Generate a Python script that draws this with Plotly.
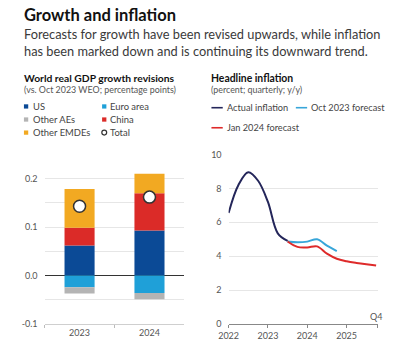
import plotly.graph_objects as go

# ---------------- data ----------------
years = ["2023", "2024"]
us = [0.062, 0.093]
china = [0.037, 0.077]
other_emdes = [0.080, 0.040]
euro_area = [-0.024, -0.036]
other_aes = [-0.013, -0.013]
total = [0.143, 0.162]

actual_q = ["2022Q1", "2022Q2", "2022Q3", "2022Q4", "2023Q1", "2023Q2", "2023Q3"]
actual = [6.55, 8.2, 8.95, 8.45, 7.2, 5.35, 4.9]
oct_q = ["2023Q3", "2023Q4", "2024Q1", "2024Q2", "2024Q3", "2024Q4"]
oct_fc = [4.87, 4.82, 4.86, 5.0, 4.62, 4.3]
jan_q = ["2023Q3", "2023Q4", "2024Q1", "2024Q2", "2024Q3", "2024Q4",
         "2025Q1", "2025Q2", "2025Q3", "2025Q4"]
jan_fc = [4.87, 4.55, 4.52, 4.58, 4.15, 3.85, 3.7, 3.6, 3.52, 3.45]

year_ticks = [2022, 2023, 2024, 2025]

# ---------------- styles ----------------
C_US = "#0B4A96"
C_EURO = "#1FA0D8"
C_AES = "#B4B4B4"
C_CHINA = "#DB2B28"
C_EMDE = "#F2A922"
C_ACT = "#24265A"
C_OCT = "#38A6D9"
C_JAN = "#DE2A2A"
FONT = "Lato"

W, H = 393, 351


def qx(q):
    return int(q[:4]) + (int(q[-1]) - 1) / 4


def X(px):
    return px / W


def Y(py):
    return 1 - py / H


fig = go.Figure()

# stacked bars (positives then negatives, relative mode)
for name, vals, col in [("US", us, C_US), ("China", china, C_CHINA),
                        ("Other EMDEs", other_emdes, C_EMDE),
                        ("Euro area", euro_area, C_EURO),
                        ("Other AEs", other_aes, C_AES)]:
    fig.add_trace(go.Bar(x=years, y=vals, name=name, marker_color=col,
                         marker_line_width=0, xaxis="x", yaxis="y",
                         showlegend=False))
fig.add_trace(go.Scatter(x=years, y=total, mode="markers", name="Total",
                         marker=dict(symbol="circle", size=12, color="white",
                                     line=dict(color="#333333", width=1.5)),
                         xaxis="x", yaxis="y", showlegend=False))

# inflation lines
for name, qs, vals, col in [("Oct 2023 forecast", oct_q, oct_fc, C_OCT),
                            ("Jan 2024 forecast", jan_q, jan_fc, C_JAN),
                            ("Actual inflation", actual_q, actual, C_ACT)]:
    fig.add_trace(go.Scatter(x=[qx(q) for q in qs], y=vals, mode="lines",
                             name=name, line=dict(color=col, width=2,
                                                  shape="spline", smoothing=1.0),
                             xaxis="x2", yaxis="y2", showlegend=False))

grid = "#E6E6E6"
tickfont = dict(family=FONT, size=9, color="#555555")

fig.update_layout(
    width=W, height=H,
    margin=dict(l=0, r=0, t=0, b=0),
    paper_bgcolor="white", plot_bgcolor="white",
    barmode="relative", bargap=0.57,
    showlegend=False,
    xaxis=dict(domain=[X(35.5), X(179)], range=[-0.5, 1.5], type="category",
               showgrid=False, showline=True, linecolor="#CFCFCF", linewidth=1,
               ticks="outside", tickson="boundaries", ticklen=3,
               tickcolor="#BBBBBB", tickfont=tickfont, anchor="y",
               fixedrange=True),
    yaxis=dict(domain=[Y(328.3), Y(153.3)], range=[-0.1, 0.25],
               tickvals=[-0.1, -0.05, 0, 0.05, 0.1, 0.15, 0.2, 0.25],
               ticktext=["-0.1", "", "0.0", "", "0.1", "", "0.2", ""],
               showgrid=True, gridcolor=grid, gridwidth=1,
               zeroline=True, zerolinecolor="#333333", zerolinewidth=1,
               showline=False, ticks="", tickfont=tickfont,
               ticklabelstandoff=6, anchor="x", fixedrange=True),
    xaxis2=dict(domain=[X(224.3), X(377.3)], range=[2022, 2025.79],
                tickvals=year_ticks + [2025.79],
                ticktext=[str(y) for y in year_ticks] + [""],
                showgrid=False, showline=True, linecolor="#888888",
                linewidth=1, ticks="outside", ticklen=3, tickcolor="#888888",
                tickfont=tickfont, anchor="y2", fixedrange=True),
    yaxis2=dict(domain=[Y(328.3), Y(153.3)], range=[0, 10], dtick=2,
                showgrid=True, gridcolor=grid, gridwidth=1, zeroline=False,
                showline=False, ticks="", tickfont=tickfont,
                ticklabelstandoff=6, anchor="x2", fixedrange=True),
)

ann = []


def text(x, y, s, size, color="#333333", bold=False, xanchor="left"):
    ann.append(dict(x=X(x), y=Y(y), xref="paper", yref="paper",
                    text=f"<b>{s}</b>" if bold else s, showarrow=False,
                    xanchor=xanchor, yanchor="middle", align="left",
                    font=dict(family=FONT, size=size, color=color)))


text(12.5, 9.6, "Growth and inflation", 16.5, "#111111", bold=True)
text(12, 37.6, "Forecasts for growth have been revised upwards, while inflation"
     "<br>has been marked down and is continuing its downward trend.", 12.8, "#3A3A3A")

text(12, 74.5, "World real GDP growth revisions", 10.3, "#111111", bold=True)
text(12, 86, "(vs. Oct 2023 WEO; percentage points)", 8.9, "#555555")
text(204, 74.5, "Headline inflation", 10.4, "#111111", bold=True)
text(204, 86, "(percent; quarterly; y/y)", 8.9, "#555555")

# left legend
shapes = []
leg_left = [("US", C_US, 21.5, 16.5, 104), ("Euro area", C_EURO, 100.5, 96.7, 104),
            ("Other AEs", C_AES, 21.5, 16.5, 117.5), ("China", C_CHINA, 100.5, 96.7, 117.5),
            ("Other EMDEs", C_EMDE, 21.5, 16.5, 131)]
for lab, col, tx, sx, yy in leg_left:
    text(tx, yy, lab, 9.4, "#444444")
    shapes.append(dict(type="rect", xref="paper", yref="paper",
                       x0=X(sx - 2.2), x1=X(sx + 2.2), y0=Y(yy - 0.3 + 2.2), y1=Y(yy - 0.3 - 2.2),
                       fillcolor=col, line=dict(width=0)))
text(100.5, 131, "Total", 9.4, "#444444")
shapes.append(dict(type="circle", xref="paper", yref="paper",
                   x0=X(96.7 - 2.5), x1=X(96.7 + 2.5), y0=Y(130.7 + 2.5), y1=Y(130.7 - 2.5),
                   fillcolor="white", line=dict(color="#333333", width=1.2)))

# right legend
for lab, col, lx, yy in [("Actual inflation", C_ACT, 206.7, 105),
                         ("Oct 2023 forecast", C_OCT, 293.3, 105),
                         ("Jan 2024 forecast", C_JAN, 206.7, 125.7)]:
    shapes.append(dict(type="line", xref="paper", yref="paper",
                       x0=X(lx), x1=X(lx + 11.6), y0=Y(yy), y1=Y(yy),
                       line=dict(color=col, width=1.6)))
    text(lx + 14, yy, lab, 9.2, "#444444")

text(376, 321, "Q4", 9, "#555555", xanchor="center")

fig.update_layout(annotations=ann, shapes=shapes)
fig.write_html("out.html")
